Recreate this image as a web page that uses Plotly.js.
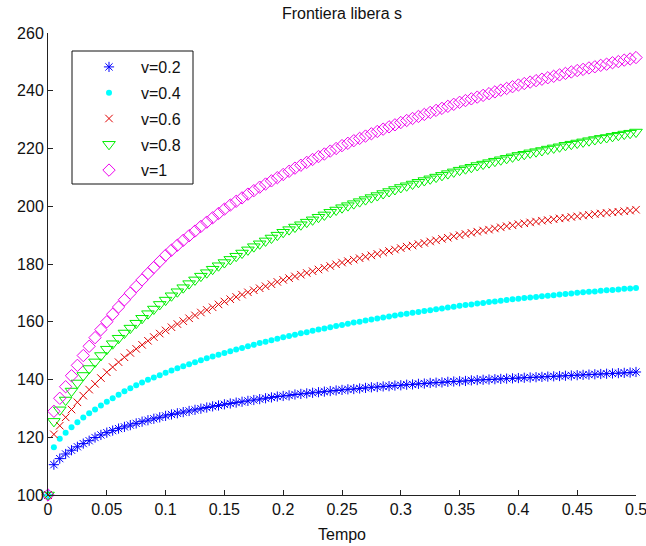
<!DOCTYPE html>
<html>
<head>
<meta charset="utf-8">
<script src="https://cdn.plot.ly/plotly-3.0.1.min.js"></script>
<style>html,body{margin:0;padding:0;background:#fff;}#chart{width:646px;height:546px;}</style>
</head>
<body>
<div id="chart"></div>
<script>
const tempo = [
0, 0.005, 0.01, 0.015, 0.02, 0.025, 0.03, 0.035, 0.04, 0.045,
0.05, 0.055, 0.06, 0.065, 0.07, 0.075, 0.08, 0.085, 0.09, 0.095,
0.1, 0.105, 0.11, 0.115, 0.12, 0.125, 0.13, 0.135, 0.14, 0.145,
0.15, 0.155, 0.16, 0.165, 0.17, 0.175, 0.18, 0.185, 0.19, 0.195,
0.2, 0.205, 0.21, 0.215, 0.22, 0.225, 0.23, 0.235, 0.24, 0.245,
0.25, 0.255, 0.26, 0.265, 0.27, 0.275, 0.28, 0.285, 0.29, 0.295,
0.3, 0.305, 0.31, 0.315, 0.32, 0.325, 0.33, 0.335, 0.34, 0.345,
0.35, 0.355, 0.36, 0.365, 0.37, 0.375, 0.38, 0.385, 0.39, 0.395,
0.4, 0.405, 0.41, 0.415, 0.42, 0.425, 0.43, 0.435, 0.44, 0.445,
0.45, 0.455, 0.46, 0.465, 0.47, 0.475, 0.48, 0.485, 0.49, 0.495,
0.5];

const sV02 = [
100, 110.5, 112.6, 114.2, 115.5, 116.7, 117.8, 118.8, 119.9, 120.8,
121.6, 122.3, 123.0, 123.6, 124.2, 124.8, 125.4, 125.9, 126.4, 126.9,
127.4, 127.9, 128.3, 128.7, 129.1, 129.5, 129.9, 130.3, 130.7, 131.0,
131.4, 131.7, 132.0, 132.3, 132.6, 132.9, 133.2, 133.5, 133.8, 134.1,
134.3, 134.5, 134.8, 135.0, 135.2, 135.4, 135.6, 135.8, 136.0, 136.2,
136.4, 136.6, 136.7, 136.9, 137.1, 137.3, 137.4, 137.6, 137.7, 137.9,
138.0, 138.2, 138.3, 138.5, 138.6, 138.8, 138.9, 139.0, 139.2, 139.3,
139.4, 139.5, 139.7, 139.8, 139.9, 140.0, 140.1, 140.2, 140.3, 140.4,
140.5, 140.6, 140.7, 140.8, 140.9, 141.0, 141.1, 141.2, 141.3, 141.4,
141.5, 141.6, 141.7, 141.8, 141.9, 142.0, 142.1, 142.2, 142.3, 142.4,
142.6];

const sV04 = [
100, 116.5, 119.5, 121.6, 123.5, 125.2, 126.8, 128.3, 129.6, 131.0,
132.3, 133.5, 134.7, 135.9, 137.0, 138.0, 139.0, 139.9, 140.7, 141.5,
142.3, 143.1, 143.9, 144.6, 145.3, 146.0, 146.7, 147.4, 148.0, 148.6,
149.2, 149.8, 150.4, 150.9, 151.5, 152.0, 152.6, 153.1, 153.6, 154.1,
154.6, 155.1, 155.5, 156.0, 156.4, 156.9, 157.3, 157.7, 158.1, 158.5,
158.9, 159.3, 159.7, 160.0, 160.4, 160.8, 161.1, 161.5, 161.8, 162.2,
162.5, 162.8, 163.1, 163.4, 163.7, 164.0, 164.3, 164.6, 164.9, 165.2,
165.5, 165.8, 166.0, 166.3, 166.5, 166.8, 167.0, 167.3, 167.5, 167.8,
168.0, 168.2, 168.4, 168.6, 168.8, 169.0, 169.2, 169.4, 169.6, 169.8,
170.0, 170.2, 170.4, 170.5, 170.7, 170.9, 171.0, 171.2, 171.4, 171.5,
171.7];

const sV06 = [
100, 121.0, 124.0, 126.9, 129.6, 132.1, 134.4, 136.5, 138.5, 140.5,
142.5, 144.3, 146.0, 147.7, 149.2, 150.6, 152.0, 153.4, 154.7, 155.9,
157.0, 158.1, 159.2, 160.2, 161.2, 162.2, 163.2, 164.1, 165.0, 166.0,
167.0, 167.8, 168.6, 169.4, 170.2, 170.9, 171.6, 172.3, 173.0, 173.8,
174.5, 175.1, 175.7, 176.3, 176.9, 177.5, 178.1, 178.7, 179.3, 179.9,
180.5, 181.0, 181.5, 182.0, 182.5, 183.0, 183.5, 184.0, 184.5, 185.0,
185.5, 186.0, 186.4, 186.9, 187.3, 187.8, 188.2, 188.7, 189.1, 189.6,
190.0, 190.4, 190.8, 191.2, 191.6, 191.9, 192.3, 192.7, 193.1, 193.4,
193.8, 194.1, 194.4, 194.7, 195.0, 195.2, 195.5, 195.8, 196.0, 196.3,
196.5, 196.8, 197.0, 197.3, 197.5, 197.7, 197.9, 198.1, 198.3, 198.5,
198.8];

const sV08 = [
100, 125.5, 129.5, 132.9, 136.0, 138.8, 141.4, 143.8, 146.1, 148.3,
150.5, 152.4, 154.3, 156.1, 157.8, 159.5, 161.2, 162.8, 164.4, 166.0,
167.5, 169.0, 170.4, 171.8, 173.2, 174.5, 175.8, 177.0, 178.2, 179.4,
180.5, 181.6, 182.7, 183.8, 184.9, 186.0, 187.0, 188.0, 189.0, 190.0,
191.0, 191.9, 192.8, 193.6, 194.5, 195.3, 196.2, 197.0, 197.9, 198.7,
199.5, 200.2, 200.9, 201.6, 202.3, 203.0, 203.7, 204.4, 205.1, 205.8,
206.5, 207.1, 207.7, 208.3, 208.9, 209.5, 210.1, 210.7, 211.3, 211.9,
212.5, 213.0, 213.5, 214.1, 214.6, 215.1, 215.6, 216.1, 216.6, 217.1,
217.6, 218.0, 218.5, 218.9, 219.3, 219.8, 220.2, 220.6, 221.1, 221.5,
221.9, 222.3, 222.7, 223.1, 223.5, 223.8, 224.2, 224.6, 225.0, 225.3,
225.7];

const sV1 = [
100, 129.0, 133.5, 137.5, 141.3, 144.9, 148.3, 151.5, 154.5, 157.3,
160.0, 162.6, 165.1, 167.6, 169.9, 172.2, 174.5, 176.7, 178.8, 180.9,
183.0, 184.8, 186.5, 188.2, 189.8, 191.4, 193.0, 194.5, 196.0, 197.5,
199.0, 200.4, 201.7, 202.9, 204.2, 205.4, 206.6, 207.7, 208.8, 209.9,
211.0, 212.1, 213.2, 214.2, 215.2, 216.2, 217.2, 218.1, 219.1, 220.0,
221.0, 221.8, 222.7, 223.5, 224.3, 225.1, 225.9, 226.7, 227.5, 228.2,
229.0, 229.7, 230.4, 231.1, 231.8, 232.5, 233.2, 233.9, 234.6, 235.3,
236.0, 236.6, 237.2, 237.8, 238.4, 239.0, 239.6, 240.2, 240.8, 241.4,
242.0, 242.5, 243.0, 243.5, 244.0, 244.5, 245.0, 245.5, 246.0, 246.5,
247.0, 247.4, 247.9, 248.3, 248.8, 249.2, 249.7, 250.1, 250.6, 251.0,
251.5];

const seriesNames = ['v=0.2', 'v=0.4', 'v=0.6', 'v=0.8', 'v=1'];
const xTickVals = [0, 0.05, 0.1, 0.15, 0.2, 0.25, 0.3, 0.35, 0.4, 0.45, 0.5];
const xTickText = ['0', '0.05', '0.1', '0.15', '0.2', '0.25', '0.3', '0.35', '0.4', '0.45', '0.5'];
const yTickVals = [100, 120, 140, 160, 180, 200, 220, 240, 260];

const seriesData = [sV02, sV04, sV06, sV08, sV1];
const markerStyles = [
  {symbol: 'asterisk-open', size: 8.5, color: '#0000ff', line: {color: '#0000ff', width: 1}},
  {symbol: 'circle', size: 6, color: '#00ffff', line: {width: 0}},
  {symbol: 'x-thin-open', size: 7.5, color: '#e00000', line: {color: '#e00000', width: 1}},
  {symbol: 'triangle-down-open', size: 11, color: '#00ee00', line: {color: '#00ee00', width: 1}},
  {symbol: 'diamond-open', size: 9.5, color: '#ee00ee', line: {color: '#ee00ee', width: 1}}
];

const traces = seriesData.map((ys, i) => ({
  type: 'scatter',
  mode: 'markers',
  x: tempo,
  y: ys,
  name: seriesNames[i],
  legendgroup: 'g' + i,
  marker: markerStyles[i],
  cliponaxis: false,
  hoverinfo: 'x+y+name'
}));

const FONT = '"Liberation Sans", Arial, Helvetica, sans-serif';
const L = 48, R = 10, T = 33, B = 51, W = 646, H = 546;
const pw = W - L - R, ph = H - T - B;
const px2x = p => (p - L) / pw;
const px2y = p => (H - B - p) / ph;

const layout = {
  width: W, height: H,
  margin: {l: L, r: R, t: T, b: B, pad: 0},
  paper_bgcolor: '#ffffff',
  plot_bgcolor: '#ffffff',
  font: {family: FONT, size: 16, color: '#111111'},
  title: {text: 'Frontiera libera s', font: {family: FONT, size: 16, color: '#111111'},
          x: 0.5, xref: 'paper', xanchor: 'center', y: 1 - 13 / H, yref: 'container', yanchor: 'middle'},
  xaxis: {
    range: [0, 0.5], tickvals: xTickVals, ticktext: xTickText,
    ticks: 'inside', ticklen: 5, tickwidth: 1, tickcolor: '#222222',
    showline: true, linecolor: '#222222', linewidth: 1, mirror: false,
    showgrid: false, zeroline: false, automargin: false,
    ticklabeloverflow: 'allow',
    tickfont: {family: FONT, size: 16, color: '#111111'},
    title: {text: 'Tempo', font: {family: FONT, size: 16, color: '#111111'}, standoff: 11}
  },
  yaxis: {
    range: [100, 260], tickvals: yTickVals,
    ticks: 'inside', ticklen: 5, tickwidth: 1, tickcolor: '#222222',
    showline: true, linecolor: '#222222', linewidth: 1, mirror: false,
    showgrid: false, zeroline: false, automargin: false,
    ticklabeloverflow: 'allow',
    tickfont: {family: FONT, size: 16, color: '#111111'}
  },
  showlegend: true,
  legend: {
    x: px2x(77), y: px2y(50), xanchor: 'left', yanchor: 'top',
    xref: 'paper', yref: 'paper',
    bgcolor: 'rgba(0,0,0,0)', borderwidth: 0,
    font: {family: FONT, size: 16, color: '#111111'},
    traceorder: 'grouped', tracegroupgap: 2, itemwidth: 54
  },
  shapes: [{
    type: 'rect', xref: 'paper', yref: 'paper',
    x0: px2x(72), x1: px2x(193), y0: px2y(184), y1: px2y(51),
    line: {color: '#111111', width: 1}, fillcolor: '#ffffff', layer: 'below'
  }]
};

Plotly.newPlot('chart', traces, layout, {displayModeBar: false, staticPlot: true});
</script>
</body>
</html>
